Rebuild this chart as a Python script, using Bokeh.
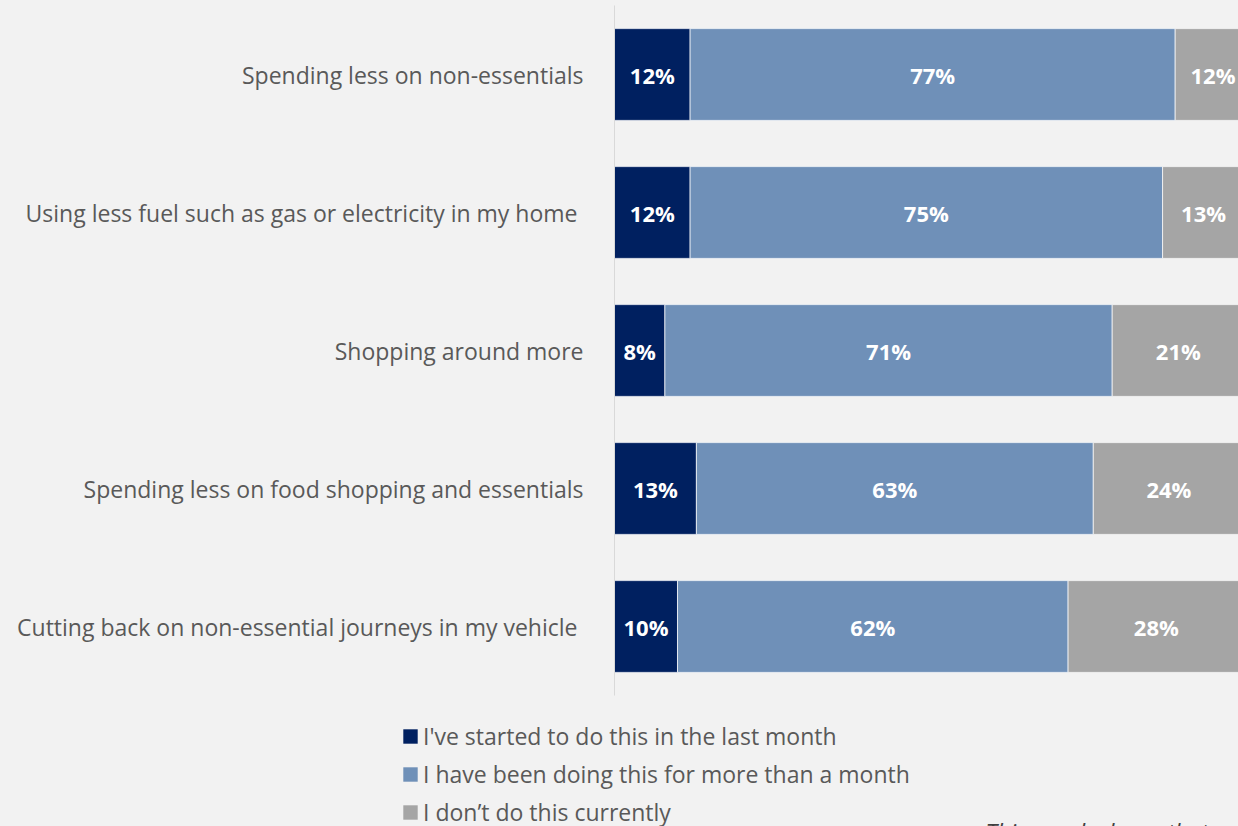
from bokeh.plotting import figure
from bokeh.layouts import column
from bokeh.models import ColumnDataSource, FixedTicker, Legend, LegendItem, Label
from bokeh.core.properties import value
from bokeh.embed import file_html
from bokeh.resources import INLINE

categories = [
    "Spending less on non-essentials",
    "Using less fuel such as gas or electricity in my home ",
    "Shopping around more",
    "Spending less on food shopping and essentials",
    "Cutting back on non-essential journeys in my vehicle ",
]
started = [12, 12, 8, 13, 10]
ongoing = [77, 75, 71, 63, 62]
not_doing = [12, 13, 21, 24, 28]
series_names = [
    "I've started to do this in the last month",
    "I have been doing this for more than a month",
    "I don\u2019t do this currently",
]
colors = ["#002060", "#6f90b8", "#a5a5a5"]
footnote = "This graph shows that"

n = len(categories)
ypos = [n - i - 0.5 for i in range(n)]  # first category on top

series = [started, ongoing, not_doing]
lefts = [[0] * n]
for s in series[:-1]:
    lefts.append([a + b for a, b in zip(lefts[-1], s)])
rights = [[a + b for a, b in zip(l, s)] for l, s in zip(lefts, series)]

BG = "#f2f2f2"
W = 1238
H1, H2 = 700, 126

# ---- main bar chart ----
p = figure(width=W, height=H1, output_backend="svg", toolbar_location=None,
           x_range=(0, 99.05), y_range=(0, n),
           min_border_left=614, min_border_right=0, min_border_top=5,
           min_border_bottom=5)
p.frame_align = False
p.background_fill_color = BG
p.border_fill_color = BG
p.outline_line_color = None
p.grid.visible = False
p.xaxis.visible = False

for k in range(3):
    src = ColumnDataSource(dict(
        y=ypos, left=lefts[k], right=rights[k],
        mid=[(a + b) / 2 for a, b in zip(lefts[k], rights[k])],
        lab=[f"{v}%" for v in series[k]],
    ))
    p.hbar(y="y", left="left", right="right", height=0.665, source=src,
           fill_color=colors[k], line_color="white", line_alpha=0.7,
           line_width=1)
    p.text(x="mid", y="y", text="lab", source=src, text_color="white",
           text_font=value("Open Sans"), text_font_style="bold",
           text_font_size="22px", text_align="center", text_baseline="middle")

yax = p.yaxis[0]
yax.ticker = FixedTicker(ticks=ypos)
yax.major_label_overrides = {y: c for y, c in zip(ypos, categories)}
yax.major_label_text_font = "Open Sans"
yax.major_label_text_font_size = "23px"
yax.major_label_text_color = "#595959"
yax.major_label_standoff = 31
yax.major_tick_in = 0
yax.major_tick_out = 0
yax.minor_tick_in = 0
yax.minor_tick_out = 0
yax.axis_line_color = "#d9d9d9"
yax.axis_line_width = 1

# ---- legend / footnote strip ----
q = figure(width=W, height=H2, output_backend="svg", toolbar_location=None,
           x_range=(0, 1), y_range=(0, 1),
           min_border_left=0, min_border_right=0, min_border_top=0,
           min_border_bottom=0)
q.frame_align = False
q.background_fill_color = BG
q.border_fill_color = BG
q.outline_line_color = None
q.grid.visible = False
q.axis.visible = False

legend_renderers = []
for k in range(3):
    # zero-size proxy glyph: only used to draw the legend swatch
    proxy = ColumnDataSource(dict(y=[0], left=[0], right=[0]))
    legend_renderers.append(q.hbar(y="y", left="left", right="right", height=0,
                                   source=proxy, fill_color=colors[k],
                                   line_color=None))

legend = Legend(
    items=[LegendItem(label=nm, renderers=[r]) for nm, r in zip(series_names, legend_renderers)],
    location=(401, -2), orientation="vertical",
    background_fill_alpha=0, border_line_color=None,
    label_text_font="Open Sans", label_text_font_size="23px",
    label_text_color="#595959", glyph_width=18, glyph_height=18,
    label_height=23, spacing=6, padding=0, margin=0, label_standoff=4,
)
q.add_layout(legend, "center")

note = Label(x=985, y=11, x_units="screen", y_units="screen", text=footnote,
             text_font="Open Sans", text_font_style="italic",
             text_font_size="23px", text_color="#404040",
             text_baseline="top", text_align="left")
q.add_layout(note)

layout = column(p, q, spacing=0, styles={"background-color": BG})
open("out.html", "w").write(file_html(layout, INLINE))
